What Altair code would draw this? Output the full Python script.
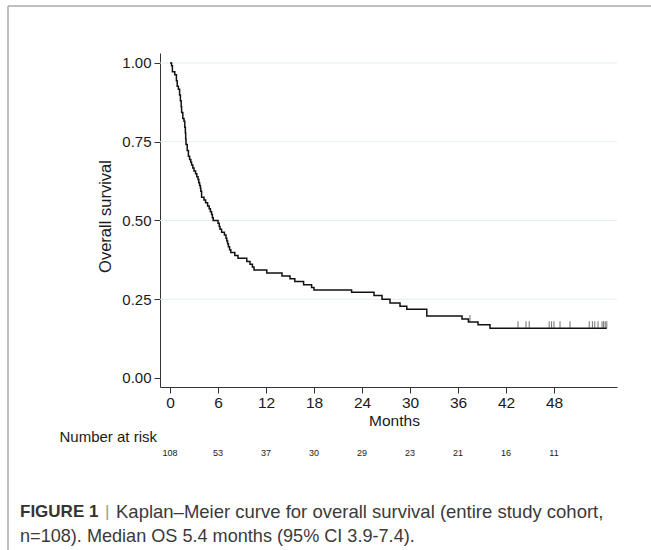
import altair as alt
import pandas as pd

# Kaplan-Meier step points (months, survival)
step_months = [0, 0.2, 0.3, 0.6, 0.8, 0.9, 1.05, 1.2, 1.3, 1.4, 1.45, 1.6, 1.75, 1.85, 1.92,
               1.96, 2.0, 2.15, 2.3, 2.45, 2.6, 2.7, 2.85, 3.0, 3.2, 3.35, 3.5, 3.6, 3.7, 3.8,
               3.85, 3.95, 4.25, 4.45, 4.7, 4.9, 5.05, 5.2, 5.3, 5.4, 6.0, 6.15, 6.25, 6.45,
               6.8, 7.0, 7.1, 7.2, 7.3, 7.45, 7.6, 8.1, 8.5, 9.6, 10.0, 10.3, 10.5, 12.1,
               14.0, 15.0, 15.6, 16.7, 17.7, 18.0, 22.7, 25.5, 26.5, 27.5, 28.75, 29.6, 32.1,
               36.5, 37.3, 38.5, 40.0, 54.6]
step_surv = [1.000, 0.991, 0.972, 0.963, 0.944, 0.926, 0.917, 0.898, 0.880, 0.861, 0.843,
             0.824, 0.815, 0.796, 0.778, 0.759, 0.741, 0.722, 0.704, 0.694, 0.685, 0.676,
             0.667, 0.657, 0.648, 0.639, 0.630, 0.620, 0.611, 0.602, 0.593, 0.574, 0.565,
             0.556, 0.546, 0.537, 0.528, 0.519, 0.509, 0.500, 0.491, 0.481, 0.472, 0.463,
             0.454, 0.444, 0.435, 0.426, 0.417, 0.407, 0.398, 0.389, 0.380, 0.370, 0.361,
             0.352, 0.343, 0.333, 0.324, 0.315, 0.306, 0.296, 0.287, 0.279, 0.272, 0.262,
             0.250, 0.238, 0.228, 0.218, 0.197, 0.187, 0.178, 0.169, 0.158, 0.158]

# Censored observations
censor_months = [37.5, 43.5, 44.5, 44.9, 47.4, 47.7, 48.0, 48.75, 50.0, 52.4, 52.8,
                 53.1, 53.5, 54.0, 54.2, 54.4, 54.6]
censor_surv = [0.178, 0.158, 0.158, 0.158, 0.158, 0.158, 0.158, 0.158, 0.158, 0.158,
               0.158, 0.158, 0.158, 0.158, 0.158, 0.158, 0.158]

# Number at risk table
risk_months = [0, 6, 12, 18, 24, 30, 36, 42, 48]
risk_counts = [108, 53, 37, 30, 29, 23, 21, 16, 11]

x_ticks = [0, 6, 12, 18, 24, 30, 36, 42, 48]
y_ticks = [0.0, 0.25, 0.5, 0.75, 1.0]
grid_values = [0.25, 0.5, 0.75, 1.0]

caption_bold = "FIGURE 1"
caption_line1 = "Kaplan\u2013Meier curve for overall survival (entire study cohort,"
caption_line2 = "n=108). Median OS 5.4 months (95% CI 3.9-7.4)."

FONT = "Liberation Sans"
W, H = 457, 334

xs = alt.Scale(domain=[-1.25, 55.875], nice=False, zero=False)
ys = alt.Scale(domain=[-0.0286, 1.0317], nice=False, zero=False)

x_axis = alt.Axis(values=x_ticks, title="Months", grid=False,
                  labelFont=FONT, labelFontSize=15.5, labelColor="#1a1a1a",
                  labelPadding=2, tickSize=6, tickColor="#333333",
                  domainColor="#333333", domainWidth=1,
                  titleFont=FONT, titleFontSize=15.5, titleFontWeight="normal",
                  titleColor="#1a1a1a", titleX=234, titleY=33,
                  titleBaseline="middle", titleAlign="center")
y_axis = alt.Axis(values=y_ticks, format=".2f", title="Overall survival",
                  grid=False, labelFont=FONT, labelFontSize=15,
                  labelColor="#1a1a1a", labelPadding=3, tickSize=6,
                  tickColor="#333333", domainColor="#333333", domainWidth=1,
                  titleFont=FONT, titleFontSize=16.5, titleFontWeight="normal",
                  titleColor="#1a1a1a", titleX=-55, titleY=163,
                  titleAngle=270, titleBaseline="middle", titleAlign="center")

curve_df = pd.DataFrame({"month": step_months, "surv": step_surv})
cens_df = pd.DataFrame({"month": censor_months, "surv": censor_surv})
risk_df = pd.DataFrame({"month": risk_months, "n": risk_counts})
grid_df = pd.DataFrame({"surv": grid_values})
one = alt.Data(values=[{"a": 1}])

X = alt.X("month:Q", scale=xs, axis=x_axis)
Y = alt.Y("surv:Q", scale=ys, axis=y_axis)

grid = alt.Chart(grid_df).mark_rule(color="#e4edf0", strokeWidth=1.2).encode(
    y=Y, x=alt.value(0), x2=alt.value(W),
)

curve = alt.Chart(curve_df).mark_line(
    interpolate="step-after", color="#111111", strokeWidth=1.5
).encode(x=X, y=Y)

cens = alt.Chart(cens_df).mark_tick(
    orient="vertical", color="#333333", size=7, thickness=1, yOffset=-3.5
).encode(x=X, y=Y)

risk = alt.Chart(risk_df).mark_text(
    font=FONT, fontSize=9, color="#1a1a1a", align="center", baseline="middle"
).encode(x=X, y=alt.value(400), text="n:Q")

nar = alt.Chart(one).mark_text(
    font=FONT, fontSize=15, color="#1a1a1a", align="right", baseline="middle"
).encode(x=alt.value(-3), y=alt.value(384), text=alt.value("Number at risk"))

cap_b = alt.Chart(one).mark_text(
    font=FONT, fontSize=17, fontWeight="bold", color="#333333", align="left",
    baseline="middle"
).encode(x=alt.value(-140), y=alt.value(459), text=alt.value(caption_bold))

cap_bar = alt.Chart(one).mark_text(
    font=FONT, fontSize=17, color="#999999", align="left", baseline="middle"
).encode(x=alt.value(-55), y=alt.value(459), text=alt.value("|"))

cap_1 = alt.Chart(one).mark_text(
    font=FONT, fontSize=18.5, color="#3a3a3a", align="left", baseline="middle"
).encode(x=alt.value(-44), y=alt.value(459), text=alt.value(caption_line1))

cap_2 = alt.Chart(one).mark_text(
    font=FONT, fontSize=18.1, color="#3a3a3a", align="left", baseline="middle"
).encode(x=alt.value(-140), y=alt.value(484), text=alt.value(caption_line2))

frame_top = alt.Chart(one).mark_rule(color="#aaaaaa", strokeWidth=1.5).encode(
    x=alt.value(-152), x2=alt.value(491), y=alt.value(-47)
)
frame_left = alt.Chart(one).mark_rule(color="#aaaaaa", strokeWidth=1.5).encode(
    x=alt.value(-152), y=alt.value(-47), y2=alt.value(497)
)

chart = alt.layer(
    grid, curve, cens, risk, nar, cap_b, cap_bar, cap_1, cap_2, frame_top, frame_left
).properties(
    width=W, height=H,
    autosize=alt.AutoSizeParams(type="none"),
    padding={"left": 160, "top": 53, "right": 34, "bottom": 163},
    background="white",
).configure_view(stroke=None)

chart.save("out.html", embed_options={"renderer": "svg", "actions": False})
